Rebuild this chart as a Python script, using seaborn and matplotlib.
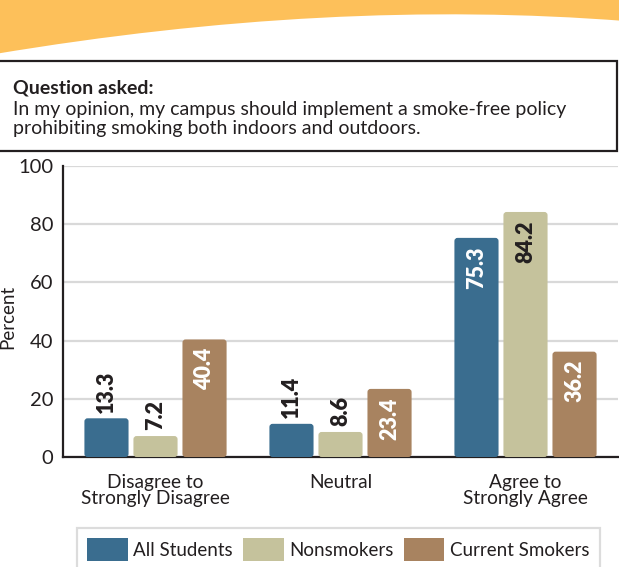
import matplotlib
matplotlib.use("Agg")
import matplotlib.pyplot as plt
import seaborn as sns
import pandas as pd
from matplotlib.patches import FancyBboxPatch, Rectangle, PathPatch
from matplotlib.path import Path

categories = ["Disagree to\nStrongly Disagree", "Neutral", "Agree to\nStrongly Agree"]
groups = ["All Students", "Nonsmokers", "Current Smokers"]
all_students = [13.3, 11.4, 75.3]
nonsmokers = [7.2, 8.6, 84.2]
current_smokers = [40.4, 23.4, 36.2]
yticks = [0, 20, 40, 60, 80, 100]

colors = ["#3a6d8f", "#c5c29c", "#a88360"]
label_colors = ["white", "#231f20", "white"]
dark = "#231f20"

sns.set_theme(style="white")
plt.rcParams["font.family"] = ["Lato", "DejaVu Sans"]
plt.rcParams["text.color"] = dark

rows = []
for g, vals in zip(groups, [all_students, nonsmokers, current_smokers]):
    for c, v in zip(categories, vals):
        rows.append({"cat": c, "group": g, "val": v})
df = pd.DataFrame(rows)

W, H = 619, 567
fig = plt.figure(figsize=(W / 100, H / 100), dpi=100)
ax = fig.add_axes([63 / W, 1 - 457 / H, (618 - 63) / W, (457 - 166) / H])

def fx(px):
    return px / W
def fy(py):
    return 1 - py / H

# top orange banner
verts = [(fx(-5), fy(54)), (fx(330), fy(-2)), (fx(625), fy(21)),
         (fx(625), fy(-5)), (fx(-5), fy(-5)), (fx(-5), fy(54))]
codes = [Path.MOVETO, Path.CURVE3, Path.CURVE3, Path.LINETO, Path.LINETO, Path.CLOSEPOLY]
fig.patches.append(PathPatch(Path(verts, codes), facecolor="#fdc05a", edgecolor="none",
                             transform=fig.transFigure, zorder=0))

# question box
fig.patches.append(Rectangle((fx(-3), fy(151)), fx(617) - fx(-3), fy(61) - fy(151),
                             facecolor="white", edgecolor=dark, linewidth=1.6,
                             transform=fig.transFigure, zorder=1))
fig.text(fx(13), fy(94), "Question asked:", fontsize=14, fontweight="bold", va="baseline", color=dark)
fig.text(fx(13), fy(115), "In my opinion, my campus should implement a smoke-free policy",
         fontsize=14, va="baseline", color=dark)
fig.text(fx(13), fy(134), "prohibiting smoking both indoors and outdoors.",
         fontsize=14, va="baseline", color=dark)

sns.barplot(data=df, x="cat", y="val", hue="group", hue_order=groups, order=categories,
            palette=colors, width=0.795, gap=0.1, saturation=1, ax=ax, legend=True,
            edgecolor="none", linewidth=0)

ax.set_xlim(-0.5, 2.5)
ax.set_ylim(0, 100)
ax.set_yticks(yticks)
ax.set_yticklabels([str(t) for t in yticks])
ax.yaxis.grid(True, color="#d9d9d9", linewidth=1.6)
ax.set_axisbelow(True)
for s in ["top", "right"]:
    ax.spines[s].set_visible(False)
for s in ["left", "bottom"]:
    ax.spines[s].set_color(dark)
    ax.spines[s].set_linewidth(1.6)
ax.tick_params(axis="y", length=0, pad=7, labelsize=14.5, labelcolor=dark)
ax.tick_params(axis="x", which="major", length=0, pad=12, labelsize=13.8, labelcolor=dark)
ax.set_xticks([0.5, 1.5, 2.5], minor=True)
ax.tick_params(axis="x", which="minor", direction="in", length=6, width=1.6, color=dark)
for lbl in ax.get_xticklabels():
    lbl.set_linespacing(0.95)
ax.set_xlabel("")
ax.set_ylabel("Percent", fontsize=13.5, color=dark)
ax.yaxis.set_label_coords(-0.085, 0.48)

# rounded bars and value labels
aspect = (ax.get_window_extent().width / 3) / (ax.get_window_extent().height / 100)
for ci, cont in enumerate(ax.containers):
    for rect in cont:
        x, w, h = rect.get_x(), rect.get_width(), rect.get_height()
        rect.set_visible(False)
        fb = FancyBboxPatch((x, 0), w, h, boxstyle="round,pad=0,rounding_size=0.017",
                            mutation_aspect=aspect, facecolor=rect.get_facecolor(),
                            edgecolor="none", zorder=3)
        ax.add_patch(fb)
        txt = f"{h:.1f}"
        if h > 20:
            ax.annotate(txt, (x + w / 2, h), xytext=(0, -6), textcoords="offset points",
                        rotation=90, ha="center", va="top", fontsize=15.5, fontweight="heavy",
                        color=label_colors[ci], zorder=4)
        else:
            ax.annotate(txt, (x + w / 2, h), xytext=(0, 4), textcoords="offset points",
                        rotation=90, ha="center", va="bottom", fontsize=15.5, fontweight="heavy",
                        color=dark, zorder=4)

handles, labels = ax.get_legend_handles_labels()
ax.get_legend().remove()
leg = fig.legend(handles, labels, loc="upper left", bbox_to_anchor=(fx(77), fy(528)),
                 bbox_transform=fig.transFigure, ncol=3, frameon=True, fancybox=False,
                 fontsize=13.5, handlelength=2.15, handleheight=1.45, handletextpad=0.3,
                 columnspacing=0.55, borderpad=0.55, borderaxespad=0)
leg.get_frame().set_edgecolor("#d4d4d4")
leg.get_frame().set_linewidth(1.6)
for t in leg.get_texts():
    t.set_color(dark)

fig.savefig("out.png", dpi=100)
